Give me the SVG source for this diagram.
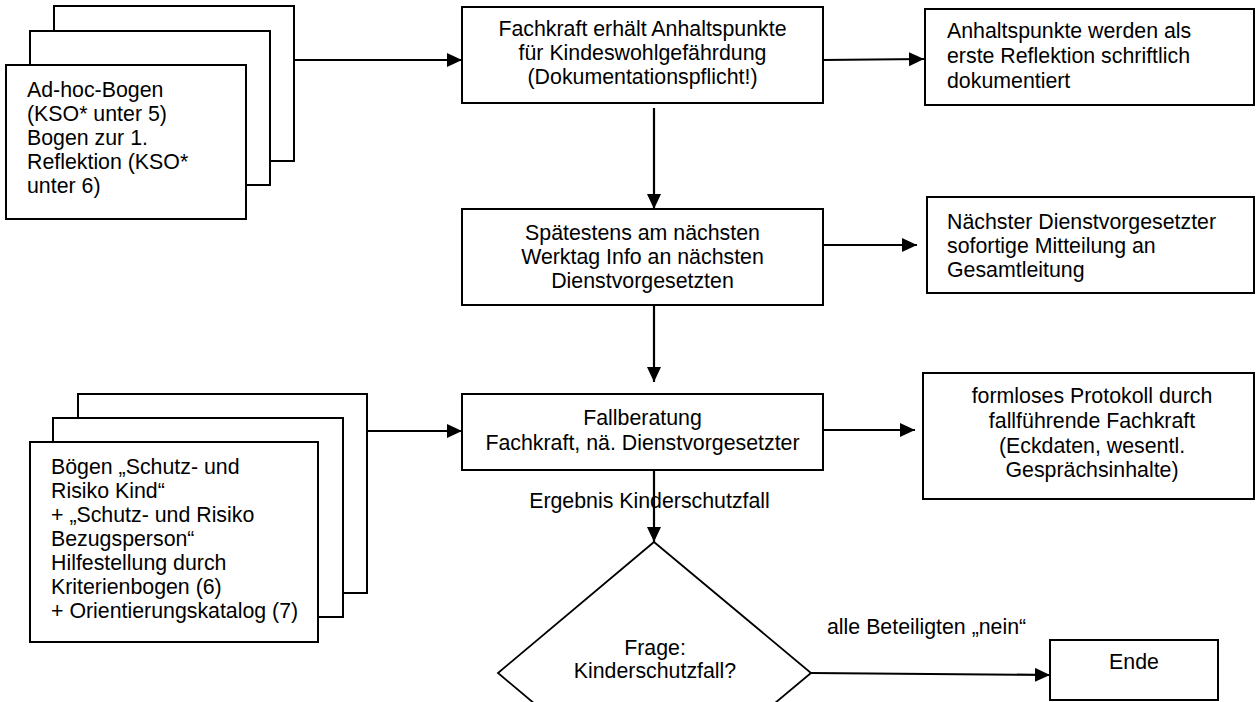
<svg xmlns="http://www.w3.org/2000/svg" width="1256" height="702" viewBox="0 0 1256 702">
<style>
.box{fill:#fff;stroke:#000;stroke-width:2}
.t{font-family:"Liberation Sans",Arial,sans-serif;font-size:21.33px;fill:#000}
.c{text-anchor:middle}
.ln{stroke:#000;stroke-width:2.2;fill:none}
</style>
<defs>
<marker id="ah" markerUnits="userSpaceOnUse" markerWidth="16" markerHeight="15" refX="15" refY="7" orient="auto">
<path d="M0,0 L15,7 L0,14 Z" fill="#000"/>
</marker>
</defs>
<rect width="1256" height="702" fill="#fff"/>
<g id="stack1">
<rect class="box" x="54" y="6" width="240" height="155"/>
<rect class="box" x="30" y="31" width="240" height="154"/>
<rect class="box" x="6" y="65" width="240" height="154"/>
<text class="t" x="27" y="97">Ad-hoc-Bogen</text>
<text class="t" x="27" y="121">(KSO* unter 5)</text>
<text class="t" x="27" y="145">Bogen zur 1.</text>
<text class="t" x="27" y="169">Reflektion (KSO*</text>
<text class="t" x="27" y="193">unter 6)</text>
</g>
<g id="box1">
<rect class="box" x="462" y="7" width="361" height="96"/>
<text class="t c" x="642.5" y="36">Fachkraft erhält Anhaltspunkte</text>
<text class="t c" x="642.5" y="60">für Kindeswohlgefährdung</text>
<text class="t c" x="642.5" y="84">(Dokumentationspflicht!)</text>
</g>
<g id="right1">
<rect class="box" x="925" y="9" width="329" height="96"/>
<text class="t" x="947" y="38">Anhaltspunkte werden als</text>
<text class="t" x="947" y="63">erste Reflektion schriftlich</text>
<text class="t" x="947" y="87.5">dokumentiert</text>
</g>
<g id="box2">
<rect class="box" x="462" y="209" width="361" height="96"/>
<text class="t c" x="642.5" y="240">Spätestens am nächsten</text>
<text class="t c" x="642.5" y="264">Werktag Info an nächsten</text>
<text class="t c" x="642.5" y="288">Dienstvorgesetzten</text>
</g>
<g id="right2">
<rect class="box" x="927" y="197" width="327" height="96"/>
<text class="t" x="947" y="228.5">Nächster Dienstvorgesetzter</text>
<text class="t" x="947" y="252.5">sofortige Mitteilung an</text>
<text class="t" x="947" y="276.5">Gesamtleitung</text>
</g>
<g id="stack2">
<rect class="box" x="78" y="394" width="289" height="199"/>
<rect class="box" x="53" y="418" width="290" height="199"/>
<rect class="box" x="30" y="442" width="288" height="200"/>
<text class="t" x="51" y="473.5">Bögen „Schutz- und</text>
<text class="t" x="51" y="497.6">Risiko Kind“</text>
<text class="t" x="51" y="521.7">+ „Schutz- und Risiko</text>
<text class="t" x="51" y="545.8">Bezugsperson“</text>
<text class="t" x="51" y="569.9">Hilfestellung durch</text>
<text class="t" x="51" y="594">Kriterienbogen (6)</text>
<text class="t" x="51" y="618.1">+ Orientierungskatalog (7)</text>
</g>
<g id="box3">
<rect class="box" x="462" y="394" width="361" height="76"/>
<text class="t c" x="642.5" y="425">Fallberatung</text>
<text class="t c" x="642.5" y="450">Fachkraft, nä. Dienstvorgesetzter</text>
</g>
<g id="protocol">
<rect class="box" x="923" y="373" width="331" height="126"/>
<text class="t c" x="1092" y="403.3">formloses Protokoll durch</text>
<text class="t c" x="1092" y="428">fallführende Fachkraft</text>
<text class="t c" x="1092" y="452.5">(Eckdaten, wesentl.</text>
<text class="t c" x="1092" y="476.7">Gesprächsinhalte)</text>
</g>
<g id="decision">
<polygon points="654,542 811,673 654,804 498,673" fill="#fff" stroke="#000" stroke-width="1.8"/>
<text class="t c" x="655" y="655">Frage:</text>
<text class="t c" x="655" y="678">Kinderschutzfall?</text>
</g>
<g id="ende">
<rect class="box" x="1050" y="640" width="168" height="60"/>
<text class="t c" x="1134" y="669">Ende</text>
</g>
<g id="connectors">
<line class="ln" x1="294" y1="60" x2="462" y2="60" marker-end="url(#ah)"/>
<line class="ln" x1="823" y1="60" x2="924" y2="59" marker-end="url(#ah)"/>
<line class="ln" x1="654" y1="108" x2="654" y2="209" marker-end="url(#ah)"/>
<line class="ln" x1="824" y1="245" x2="917" y2="245" marker-end="url(#ah)"/>
<line class="ln" x1="654" y1="305" x2="654" y2="382" marker-end="url(#ah)"/>
<line class="ln" x1="367" y1="431" x2="462" y2="431" marker-end="url(#ah)"/>
<line class="ln" x1="823" y1="430" x2="915" y2="430" marker-end="url(#ah)"/>
<line class="ln" x1="654" y1="470" x2="654" y2="542" marker-end="url(#ah)"/>
<line class="ln" x1="811" y1="673" x2="1050" y2="675" marker-end="url(#ah)"/>
<text class="t c" x="649.5" y="508">Ergebnis Kinderschutzfall</text>
<text class="t" x="827" y="634">alle Beteiligten „nein“</text>
</g>
</svg>
